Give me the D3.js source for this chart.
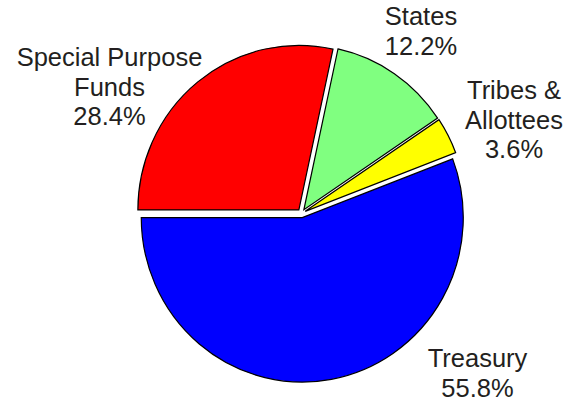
<!DOCTYPE html>
<html>
<head>
<meta charset="utf-8">
<script src="https://cdn.jsdelivr.net/npm/d3@7"></script>
<style>
  html, body { margin: 0; padding: 0; background: #fff; }
  svg { display: block; }
</style>
</head>
<body>
<div id="chart"></div>
<script>
// chart data
const categories = ['Special Purpose Funds', 'States', 'Tribes & Allottees', 'Treasury']
const shares = [28.4, 12.2, 3.6, 55.8]
const labelLines = [
  ['Special Purpose', 'Funds', '28.4%'],
  ['States', '12.2%'],
  ['Tribes &', 'Allottees', '3.6%'],
  ['Treasury', '55.8%']
]
const sliceColors = ['#ff0000', '#80ff80', '#ffff00', '#0000ff']

const width = 575
const height = 402
const cx = 301.5
const cy = 213.3
const radius = 161
const squash = 1.022 // picture is a touch taller than wide
const explode = 4.2
const fontSize = 25.5
const lineStep = 29.5

// where each label block sits (centre x, first baseline)
const labelAnchor = {
  'Special Purpose Funds': [109.5, 66],
  'States': [421, 25],
  'Tribes & Allottees': [514, 99],
  'Treasury': [477.5, 367]
}

const svg = d3.select('#chart')
  .append('svg')
  .attr('width', width)
  .attr('height', height)

const pie = d3.pie()
  .sort(null)
  .value(d => d.value)
  .startAngle(-Math.PI / 2)
  .endAngle(Math.PI * 1.5)

const arc = d3.arc()
  .innerRadius(0)
  .outerRadius(radius)

const rows = categories.map((c, i) => ({ name: c, value: shares[i], color: sliceColors[i], lines: labelLines[i] }))
const arcs = pie(rows)

const pieGroup = svg.append('g')
  .attr('transform', `translate(${cx},${cy}) scale(1,${squash})`)

pieGroup.selectAll('path')
  .data(arcs)
  .enter()
  .append('path')
  .attr('d', arc)
  .attr('transform', function (d) {
    let mid = (d.startAngle + d.endAngle) / 2
    return `translate(${explode * Math.sin(mid)},${-explode * Math.cos(mid)})`
  })
  .attr('fill', d => d.data.color)
  .attr('stroke', '#000')
  .attr('stroke-width', 1.2)
  .attr('stroke-linejoin', 'miter')

const labels = svg.append('g')
  .attr('font-family', '"Liberation Sans", Arial, sans-serif')
  .attr('font-size', fontSize)
  .attr('fill', '#231f20')
  .attr('text-anchor', 'middle')

rows.forEach(function (r) {
  let pos = labelAnchor[r.name]
  let t = labels.append('text')
    .attr('x', pos[0])
    .attr('y', pos[1])
  r.lines.forEach(function (line, j) {
    t.append('tspan')
      .attr('x', pos[0])
      .attr('y', pos[1] + j * lineStep)
      .text(line)
  })
})
</script>
</body>
</html>
